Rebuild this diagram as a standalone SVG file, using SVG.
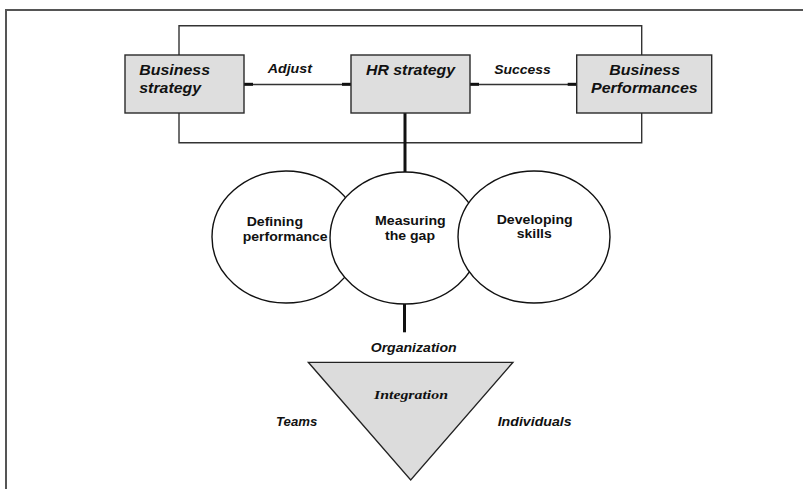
<svg xmlns="http://www.w3.org/2000/svg" width="803" height="489" viewBox="0 0 803 489">
<style>
.box{fill:#dedede;stroke:#2a2a2a;stroke-width:1.4}
.circ{fill:#fff;stroke:#111;stroke-width:1.4}
.ln{fill:none;stroke:#333;stroke-width:1.4}
.thick{fill:none;stroke:#111;stroke-width:3}
.tab{fill:#111}
.bt{font-family:"Liberation Sans",Arial,sans-serif;font-weight:bold;font-style:italic;font-size:15px;fill:#111}
.lbl{font-family:"Liberation Sans",Arial,sans-serif;font-weight:bold;font-style:italic;font-size:12.5px;fill:#111}
.ct{font-family:"Liberation Sans",Arial,sans-serif;font-weight:bold;font-size:12.5px;fill:#111}
.serif{font-family:"Liberation Serif","Times New Roman",serif;font-weight:bold;font-style:italic;font-size:13.5px;fill:#111}
</style>
<rect width="803" height="489" fill="#fff"/>
<path d="M6 489 V10 H803" fill="none" stroke="#555" stroke-width="2"/>
<g id="connectors">
<path class="ln" d="M179 55 V25.7 H641.7 V55"/>
<path class="ln" d="M179 113 V142.7 H641.7 V113"/>
<path class="ln" d="M244 84.5 H351"/>
<path class="ln" d="M470 84.5 H576.7"/>
<rect class="tab" x="244" y="82.8" width="9" height="3"/>
<rect class="tab" x="342" y="82.8" width="9" height="3"/>
<rect class="tab" x="470" y="82.8" width="9" height="3"/>
<rect class="tab" x="567.7" y="82.8" width="9" height="3"/>
<path class="thick" d="M405 113 V172"/>
<path class="thick" d="M404.5 304 V332.3"/>
</g>
<g id="business-strategy">
<rect class="box" x="125" y="55" width="119" height="58"/>
<text class="bt" x="139.3" y="74.7" textLength="70.7" lengthAdjust="spacingAndGlyphs">Business</text>
<text class="bt" x="139.3" y="92.7" textLength="61.7" lengthAdjust="spacingAndGlyphs">strategy</text>
</g>
<g id="hr-strategy">
<rect class="box" x="351" y="55" width="119" height="58"/>
<text class="bt" x="366" y="75" textLength="89" lengthAdjust="spacingAndGlyphs">HR strategy</text>
</g>
<g id="business-performances">
<rect class="box" x="576.7" y="55" width="135" height="58"/>
<text class="bt" x="609.3" y="75" textLength="70.7" lengthAdjust="spacingAndGlyphs">Business</text>
<text class="bt" x="591" y="92.7" textLength="106.7" lengthAdjust="spacingAndGlyphs">Performances</text>
</g>
<g id="edge-labels">
<text class="lbl" x="267.7" y="73.3" textLength="44.3" lengthAdjust="spacingAndGlyphs">Adjust</text>
<text class="lbl" x="494.3" y="74.3" textLength="56.4" lengthAdjust="spacingAndGlyphs">Success</text>
</g>
<g id="defining-performance">
<ellipse class="circ" cx="286" cy="237" rx="74" ry="66"/>
</g>
<g id="measuring-gap">
<ellipse class="circ" cx="405" cy="238" rx="75" ry="66"/>
</g>
<g id="developing-skills">
<ellipse class="circ" cx="534" cy="237" rx="76" ry="66"/>
</g>
<g id="circle-texts">
<text class="ct" x="246.7" y="226" textLength="56.3" lengthAdjust="spacingAndGlyphs">Defining</text>
<text class="ct" x="242.7" y="240.5" textLength="85" lengthAdjust="spacingAndGlyphs">performance</text>
<text class="ct" x="375" y="225" textLength="70.7" lengthAdjust="spacingAndGlyphs">Measuring</text>
<text class="ct" x="385" y="239.5" textLength="50" lengthAdjust="spacingAndGlyphs">the gap</text>
<text class="ct" x="496.7" y="223.5" textLength="76" lengthAdjust="spacingAndGlyphs">Developing</text>
<text class="ct" x="516.7" y="238" textLength="35" lengthAdjust="spacingAndGlyphs">skills</text>
</g>
<g id="integration">
<polygon points="308.3,362.3 513,362.3 410.7,480" fill="#dcdcdc" stroke="#222" stroke-width="1.3"/>
<text class="serif" x="374" y="399.3" textLength="74" lengthAdjust="spacingAndGlyphs">Integration</text>
</g>
<g id="triangle-labels">
<text class="lbl" x="370.7" y="351.7" textLength="86" lengthAdjust="spacingAndGlyphs">Organization</text>
<text class="lbl" x="276" y="425.7" textLength="41.3" lengthAdjust="spacingAndGlyphs">Teams</text>
<text class="lbl" x="497.7" y="425.7" textLength="74" lengthAdjust="spacingAndGlyphs">Individuals</text>
</g>
</svg>
